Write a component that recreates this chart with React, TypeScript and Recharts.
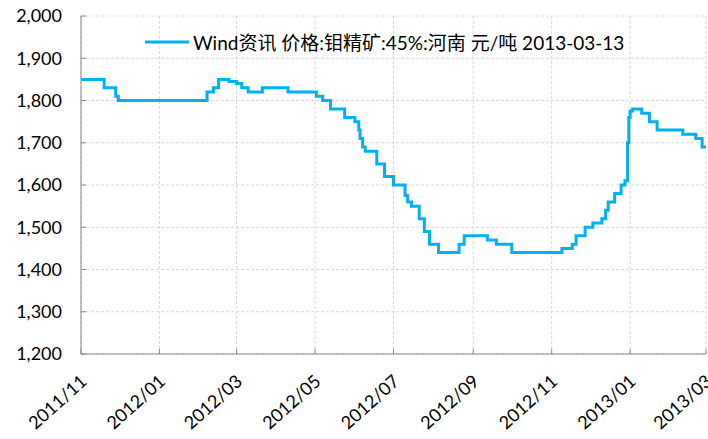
import { CartesianGrid, Legend, Line, LineChart, XAxis, YAxis } from 'recharts';

// 钼精矿 45% 河南 price, change points (step line)
const changeDates = [
  '2011-11-01', '2011-11-19', '2011-11-28', '2011-11-30', '2012-02-07', '2012-02-12',
  '2012-02-16', '2012-02-24', '2012-03-01', '2012-03-05', '2012-03-10', '2012-03-21',
  '2012-04-10', '2012-05-02', '2012-05-07', '2012-05-13', '2012-05-24', '2012-06-01',
  '2012-06-04', '2012-06-05', '2012-06-07', '2012-06-09', '2012-06-18', '2012-06-24',
  '2012-07-01', '2012-07-10', '2012-07-12', '2012-07-15', '2012-07-21', '2012-07-25',
  '2012-07-29', '2012-08-05', '2012-08-21', '2012-08-25', '2012-09-12', '2012-09-19',
  '2012-10-01', '2012-11-09', '2012-11-17', '2012-11-20', '2012-11-27', '2012-12-03',
  '2012-12-10', '2012-12-13', '2012-12-15', '2012-12-20', '2012-12-25', '2012-12-28',
  '2012-12-30', '2012-12-31', '2013-01-01', '2013-01-03', '2013-01-10', '2013-01-16',
  '2013-01-22', '2013-02-11', '2013-02-21', '2013-02-26', '2013-03-01',
];
const prices = [
  1850, 1830, 1810, 1800, 1820, 1830,
  1850, 1845, 1840, 1830, 1820, 1830,
  1820, 1810, 1800, 1780, 1760, 1750,
  1730, 1710, 1690, 1680, 1650, 1620,
  1600, 1575, 1560, 1550, 1520, 1490,
  1460, 1440, 1460, 1480, 1470, 1460,
  1440, 1450, 1460, 1480, 1500, 1510,
  1520, 1540, 1560, 1580, 1600, 1610,
  1700, 1760, 1775, 1780, 1770, 1750,
  1730, 1720, 1710, 1690, 1690,
];

const tickDates = [
  '2011-11-01', '2012-01-01', '2012-03-01', '2012-05-01', '2012-07-01',
  '2012-09-01', '2012-11-01', '2013-01-01', '2013-03-01',
];
const tickLabels = ['2011/11', '2012/01', '2012/03', '2012/05', '2012/07', '2012/09', '2012/11', '2013/01', '2013/03'];
const yTicks = [1200, 1300, 1400, 1500, 1600, 1700, 1800, 1900, 2000];
const seriesName = 'Wind资讯 价格:钼精矿:45%:河南 元/吨 2013-03-13';

const toTime = (s: string) => {
  const [y, m, d] = s.split('-').map(Number);
  return Date.UTC(y, m - 1, d);
};

const data = changeDates.map((d, i) => ({ t: toTime(d), price: prices[i] }));
const xTicks = tickDates.map(toTime);

const FONT = "Lato, 'Noto Sans CJK SC', sans-serif";
const BLUE = '#00B0F0';
const AXIS = '#898989';

function DateTick({ x, y, payload }: any) {
  const label = tickLabels[xTicks.indexOf(payload.value)] ?? '';
  const ax = x + 7;
  const ay = y + 29;
  return (
    <text
      x={ax}
      y={ay}
      textAnchor="end"
      transform={`rotate(-42, ${ax}, ${ay})`}
      fontFamily={FONT}
      fontSize={18}
      fill="#000"
    >
      {label}
    </text>
  );
}

function LegendBox({ payload }: any) {
  const name = payload && payload[0] ? payload[0].value : seriesName;
  return (
    <div style={{ display: 'flex', alignItems: 'center', whiteSpace: 'nowrap', fontFamily: FONT, fontSize: 19, color: '#000' }}>
      <svg width={44} height={4} style={{ display: 'block' }}>
        <line x1={0} y1={2} x2={44} y2={2} stroke={BLUE} strokeWidth={3} />
      </svg>
      <span style={{ marginLeft: 4 }}>{name}</span>
    </div>
  );
}

export default function App() {
  return (
    <div style={{ position: 'absolute', left: 0, top: 0, background: '#fff' }}>
      <LineChart width={708} height={439} data={data} margin={{ top: 16, right: 2, bottom: 0, left: 0 }}>
        <CartesianGrid stroke="#D9D9D9" strokeDasharray="3 2" />
        <XAxis
          dataKey="t"
          type="number"
          domain={[xTicks[0], xTicks[xTicks.length - 1]]}
          ticks={xTicks}
          interval={0}
          height={85}
          stroke={AXIS}
          tickSize={-5}
          tickMargin={5}
          tick={<DateTick />}
          allowDataOverflow
        />
        <YAxis
          type="number"
          domain={[1200, 2000]}
          ticks={yTicks}
          interval={0}
          width={81}
          stroke={AXIS}
          tickSize={-5}
          tickMargin={24}
          tickFormatter={(v: number) => v.toLocaleString('en-US')}
          tick={{ fill: '#000', fontSize: 18, fontFamily: FONT }}
        />
        <Legend
          layout="vertical"
          align="center"
          verticalAlign="middle"
          wrapperStyle={{ top: 28, left: 145, width: 'auto' }}
          content={<LegendBox />}
        />
        <Line
          type="stepAfter"
          dataKey="price"
          name={seriesName}
          stroke={BLUE}
          strokeWidth={3}
          dot={false}
          isAnimationActive={false}
        />
      </LineChart>
    </div>
  );
}
